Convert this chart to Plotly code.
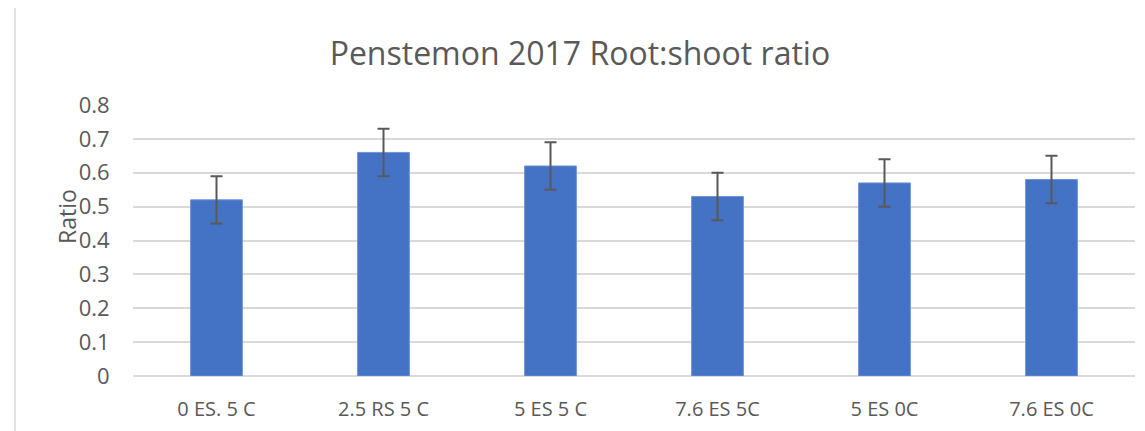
import plotly.graph_objects as go

# data
categories = ["0 ES. 5 C", "2.5 RS 5 C", "5 ES 5 C", "7.6 ES 5C", "5 ES 0C", "7.6 ES 0C"]
ratio = [0.52, 0.66, 0.62, 0.53, 0.57, 0.58]
error = [0.07, 0.07, 0.07, 0.07, 0.07, 0.07]
y_ticks = [0, 0.1, 0.2, 0.3, 0.4, 0.5, 0.6, 0.7, 0.8]
y_tick_text = ["0", "0.1", "0.2", "0.3", "0.4", "0.5", "0.6", "0.7", "0.8"]

grey = "#595959"
font = "Open Sans"

fig = go.Figure()
fig.add_trace(go.Bar(
    x=categories,
    y=ratio,
    marker=dict(color="#4472C4", line=dict(color="#6f93d6", width=1)),
    error_y=dict(type="data", array=error, color=grey, thickness=2, width=6),
))

# the page body has an 8px margin, so the figure is a bit smaller and shifted
fig.update_layout(
    width=1137,
    height=423,
    margin=dict(l=125, r=10, t=97, b=55, autoexpand=False),
    paper_bgcolor="white",
    plot_bgcolor="white",
    bargap=0.69,
    showlegend=False,
    font=dict(family=font, color=grey, size=20),
    title=dict(
        text="Penstemon 2017 Root:shoot ratio",
        x=0.503, xanchor="center", y=0.891, yanchor="middle",
        font=dict(family=font, size=32, color=grey),
    ),
    xaxis=dict(
        automargin=False,
        showgrid=False, showline=False, zeroline=False,
        ticks="outside", ticklen=15, tickcolor="rgba(0,0,0,0)",
        tickfont=dict(size=20, color=grey),
    ),
    yaxis=dict(
        automargin=False,
        range=[0, 0.8], tickvals=y_ticks, ticktext=y_tick_text,
        showgrid=True, gridcolor="#d9d9d9", gridwidth=1.5,
        zeroline=True, zerolinecolor="#d9d9d9", zerolinewidth=1.5,
        showline=False,
        ticks="outside", ticklen=18, tickcolor="rgba(0,0,0,0)",
        tickfont=dict(size=22, color=grey),
    ),
    annotations=[dict(
        text="Ratio", textangle=-90, xref="paper", yref="paper",
        x=-0.066, y=0.59, xanchor="center", yanchor="middle",
        showarrow=False, font=dict(family=font, size=23, color=grey),
    )],
    shapes=[dict(
        type="rect", xref="paper", yref="paper",
        x0=-0.1178, x1=1.2, y0=-0.5, y1=1.365,
        line=dict(color="#d9d9d9", width=1.5), layer="below",
    )],
)

fig.write_html("out.html")
